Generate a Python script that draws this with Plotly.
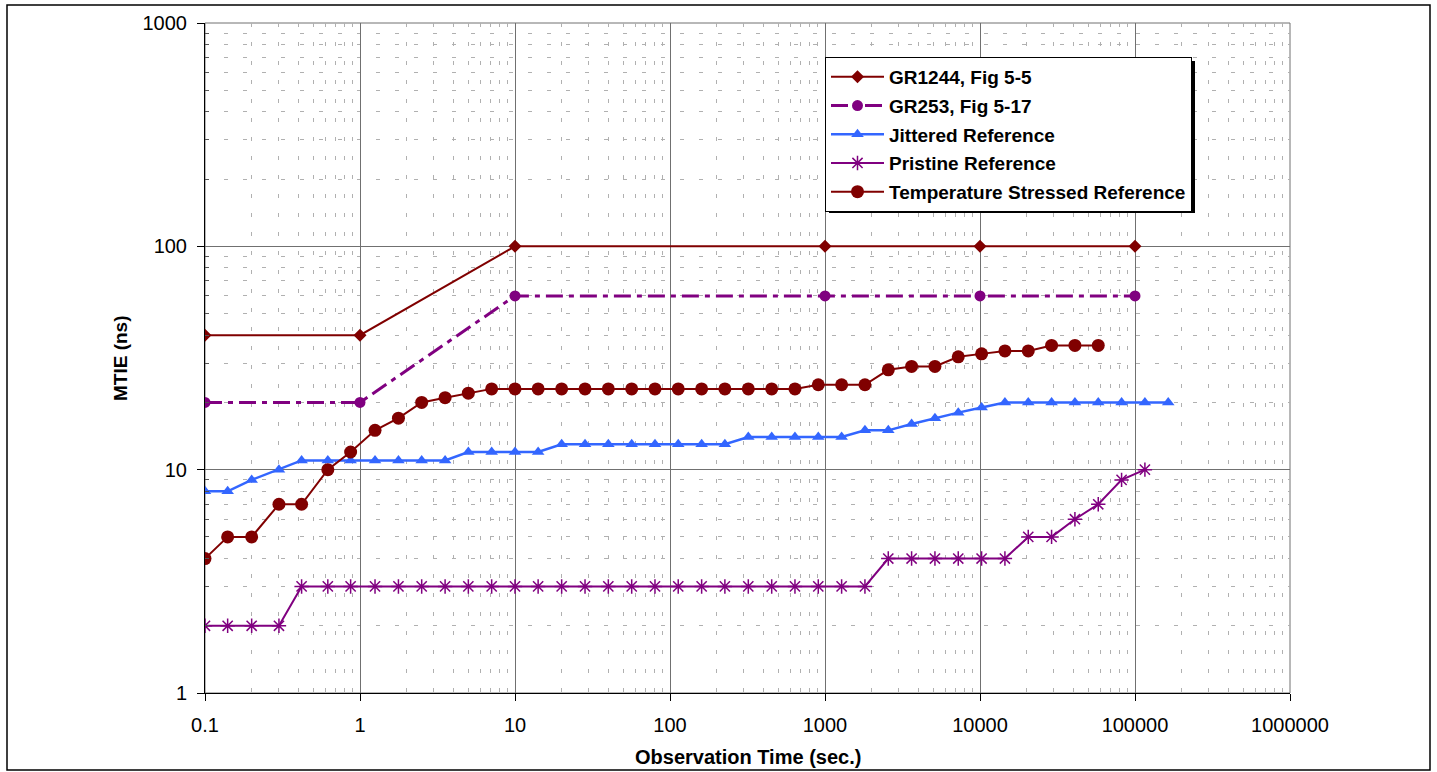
import plotly.graph_objects as go

# ---------------- data ----------------
tau = [0.1, 0.14, 0.2, 0.3, 0.42, 0.62, 0.87, 1.25, 1.77, 2.5, 3.54, 5, 7.07,
       10, 14.1, 20, 28.3, 40, 56.6, 80, 113, 160, 226, 320, 453, 640, 905,
       1280, 1810, 2560, 3620, 5120, 7240, 10240, 14480, 20480, 28960, 40960,
       57930, 81920, 115850, 163840]

gr1244_x = [0.1, 1, 10, 1000, 10000, 100000]
gr1244_y = [40, 40, 100, 100, 100, 100]

gr253_x = [0.1, 1, 10, 1000, 10000, 100000]
gr253_y = [20, 20, 60, 60, 60, 60]

jittered_y = [8, 8, 9, 10, 11, 11, 11, 11, 11, 11, 11, 12, 12, 12, 12,
              13, 13, 13, 13, 13, 13, 13, 13, 14, 14, 14, 14, 14, 15, 15,
              16, 17, 18, 19, 20, 20, 20, 20, 20, 20, 20, 20]

pristine_y = [2, 2, 2, 2, 3, 3, 3, 3, 3, 3, 3, 3, 3, 3, 3, 3, 3, 3, 3, 3,
              3, 3, 3, 3, 3, 3, 3, 3, 3, 4, 4, 4, 4, 4, 4, 5, 5, 6, 7, 9, 10]

temperature_y = [4, 5, 5, 7, 7, 10, 12, 15, 17, 20, 21, 22, 23, 23, 23, 23,
                 23, 23, 23, 23, 23, 23, 23, 23, 23, 23, 24, 24, 24, 28, 29,
                 29, 32, 33, 34, 34, 36, 36, 36]

x_tickvals = [0.1, 1, 10, 100, 1000, 10000, 100000, 1000000]
x_ticktext = ["0.1", "1", "10", "100", "1000", "10000", "100000", "1000000"]
y_tickvals = [1, 10, 100, 1000]
y_ticktext = ["1", "10", "100", "1000"]

series_names = ["GR1244, Fig 5-5", "GR253, Fig 5-17", "Jittered Reference",
                "Pristine Reference", "Temperature Stressed Reference"]

DARKRED = "#800000"
PURPLE = "#800080"
BLUE = "#3366FF"

# ---------------- geometry helpers (pixel -> paper) ----------------
W, H = 1437, 772
L, T = 205, 23
R, B = W - 1290, H - 693
PW, PH = W - L - R, H - T - B


def px(xs):
    return (xs - L) / PW


def py(ys):
    return (H - B - ys) / PH


fig = go.Figure()

fig.add_trace(go.Scatter(
    x=gr1244_x, y=gr1244_y, name=series_names[0], mode="lines+markers",
    line=dict(color=DARKRED, width=2),
    marker=dict(symbol="diamond", size=10, color=DARKRED),
    legendgroup="a"))

fig.add_trace(go.Scatter(
    x=gr253_x, y=gr253_y, name=series_names[1], mode="lines+markers",
    line=dict(color=PURPLE, width=3, dash="17px,6px,5px,6px"),
    marker=dict(symbol="circle", size=11, color=PURPLE),
    legendgroup="b"))

fig.add_trace(go.Scatter(
    x=tau[:len(jittered_y)], y=jittered_y, name=series_names[2],
    mode="lines+markers",
    line=dict(color=BLUE, width=2.5),
    marker=dict(symbol="triangle-up", size=11, color=BLUE),
    legendgroup="c"))

fig.add_trace(go.Scatter(
    x=tau[:len(pristine_y)], y=pristine_y, name=series_names[3],
    mode="lines+markers",
    line=dict(color=PURPLE, width=2),
    marker=dict(symbol="asterisk-open", size=12, color=PURPLE,
                line=dict(color=PURPLE, width=1.5)),
    legendgroup="d"))

fig.add_trace(go.Scatter(
    x=tau[:len(temperature_y)], y=temperature_y, name=series_names[4],
    mode="lines+markers",
    line=dict(color=DARKRED, width=2),
    marker=dict(symbol="circle", size=13, color=DARKRED),
    legendgroup="e"))

minor_x = [m * 10 ** e for e in range(-1, 6) for m in range(2, 10)]
minor_y = [m * 10 ** e for e in range(0, 3) for m in range(2, 10)]

fig.update_xaxes(
    type="log", range=[-1, 6], automargin=False,
    tickmode="array", tickvals=x_tickvals, ticktext=x_ticktext,
    ticks="outside", ticklen=7, tickcolor="black", tickwidth=1,
    ticklabelstandoff=7,
    showline=True, linecolor="black", linewidth=1,
    showgrid=True, gridcolor="#707070", gridwidth=1,
    tickfont=dict(size=20, color="black"),
    minor=dict(tickmode="array", tickvals=minor_x, showgrid=True,
               gridcolor="#b0b0b0", gridwidth=1, griddash="4px,15px",
               ticks=""),
    zeroline=False,
)

fig.update_yaxes(
    type="log", range=[0, 3], automargin=False,
    tickmode="array", tickvals=y_tickvals, ticktext=y_ticktext,
    ticks="outside", ticklen=7, tickcolor="black", tickwidth=1,
    ticklabelstandoff=6,
    showline=True, linecolor="black", linewidth=1,
    showgrid=True, gridcolor="#707070", gridwidth=1,
    tickfont=dict(size=20, color="black"),
    minor=dict(tickmode="array", tickvals=minor_y, showgrid=True,
               gridcolor="#b0b0b0", gridwidth=1, griddash="4px,15px",
               ticks="inside", ticklen=4, tickcolor="#555"),
    zeroline=False,
)

fig.update_layout(
    width=W, height=H,
    margin=dict(l=L, r=R, t=T, b=B, autoexpand=False),
    paper_bgcolor="white", plot_bgcolor="white",
    font=dict(family="Arial, Liberation Sans, sans-serif", color="black"),
    showlegend=True,
    legend=dict(
        x=px(825), y=py(57), xanchor="left", yanchor="top",
        bgcolor="white", bordercolor="black", borderwidth=1,
        font=dict(size=19, color="black", weight="bold"),
        tracegroupgap=1, itemwidth=53,
        traceorder="grouped",
    ),
    annotations=[
        dict(text="<b>Observation Time (sec.)</b>", xref="paper",
             yref="paper", x=px(748), y=py(757), xanchor="center",
             yanchor="middle", showarrow=False,
             font=dict(size=20, color="black")),
        dict(text="<b>MTIE (ns)</b>", xref="paper", yref="paper",
             x=px(120), y=py(358), xanchor="center", yanchor="middle",
             textangle=-90, showarrow=False,
             font=dict(size=19, color="black")),
    ],
    shapes=[
        # plot area frame (gray)
        dict(type="rect", xref="paper", yref="paper", x0=0, x1=1, y0=0, y1=1,
             line=dict(color="#707070", width=1), layer="below"),
        # legend shadow
        dict(type="rect", xref="paper", yref="paper",
             x0=px(829), x1=px(1195), y0=py(213), y1=py(61),
             fillcolor="black", line=dict(width=0), layer="above"),
        # outer chart border
        dict(type="rect", xref="paper", yref="paper",
             x0=px(7), x1=px(1430), y0=py(770), y1=py(5),
             line=dict(color="black", width=1.5), layer="above"),
    ],
)

fig.write_html(
    "out.html",
    config={"displayModeBar": False},
    post_script="document.body.style.margin='0';"
                "document.body.style.overflow='hidden';",
)
